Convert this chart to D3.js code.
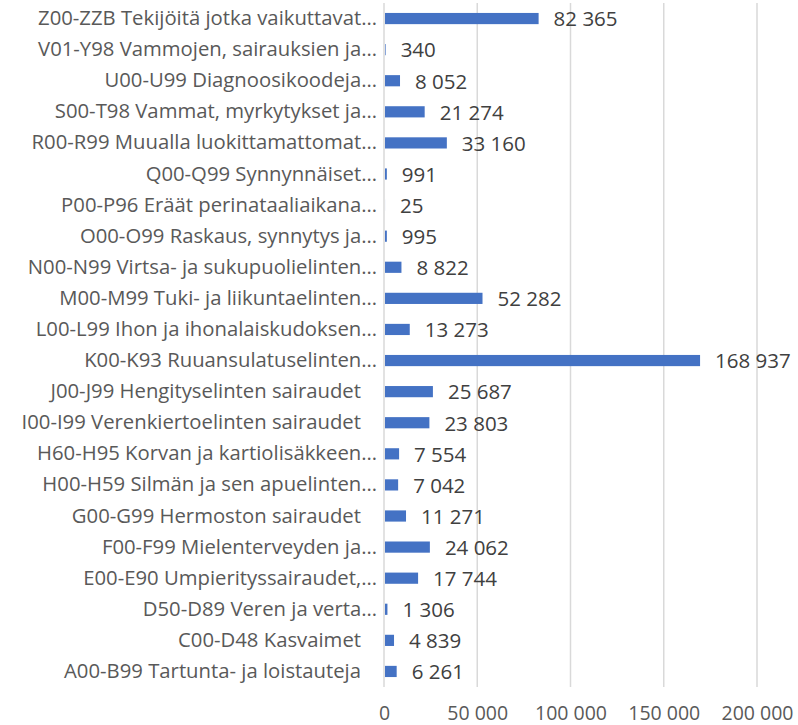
<!DOCTYPE html>
<html>
<head>
<meta charset="utf-8">
<script src="https://cdn.jsdelivr.net/npm/d3@7"></script>
<style>
  body { margin: 0; background: #fff; }
  svg text { font-family: "Open Sans", sans-serif; }
</style>
</head>
<body>
<svg id="chart"></svg>
<script>
const categories = [
    "Z00-ZZB Tekijöitä jotka vaikuttavat…",
    "V01-Y98 Vammojen, sairauksien ja…",
    "U00-U99 Diagnoosikoodeja…",
    "S00-T98 Vammat, myrkytykset ja…",
    "R00-R99 Muualla luokittamattomat…",
    "Q00-Q99 Synnynnäiset…",
    "P00-P96 Eräät perinataaliaikana…",
    "O00-O99 Raskaus, synnytys ja…",
    "N00-N99 Virtsa- ja sukupuolielinten…",
    "M00-M99 Tuki- ja liikuntaelinten…",
    "L00-L99 Ihon ja ihonalaiskudoksen…",
    "K00-K93 Ruuansulatuselinten…",
    "J00-J99 Hengityselinten sairaudet",
    "I00-I99 Verenkiertoelinten sairaudet",
    "H60-H95 Korvan ja kartiolisäkkeen…",
    "H00-H59 Silmän ja sen apuelinten…",
    "G00-G99 Hermoston sairaudet",
    "F00-F99 Mielenterveyden ja…",
    "E00-E90 Umpierityssairaudet,…",
    "D50-D89 Veren ja verta…",
    "C00-D48 Kasvaimet",
    "A00-B99 Tartunta- ja loistauteja"
];
const values = [82365, 340, 8052, 21274, 33160, 991, 25, 995, 8822, 52282, 13273,
    168937, 25687, 23803, 7554, 7042, 11271, 24062, 17744, 1306, 4839, 6261];
const ticks = [0, 50000, 100000, 150000, 200000];

const width = 798, height = 725;
const margin = { top: 3, right: 41, bottom: 38, left: 384 };

const svg = d3.select("#chart").attr("width", width).attr("height", height);
const g = svg.append("g").attr("transform", `translate(${margin.left}, ${margin.top})`);

const w = width - margin.left - margin.right;
const h = height - margin.top - margin.bottom;

const x = d3.scaleLinear().domain([0, 200000]).range([0, w]);
const y = d3.scaleBand().domain(categories).range([0, h]).paddingInner(0.64).paddingOuter(0.32);

const fmt = v => d3.format(",")(v).replace(/,/g, " ");

// gridlines
g.selectAll("line.grid")
    .data(ticks)
    .enter()
    .append("line")
    .attr("class", "grid")
    .attr("x1", d => x(d))
    .attr("x2", d => x(d))
    .attr("y1", 0)
    .attr("y2", h)
    .attr("stroke", "#d9d9d9")
    .attr("stroke-width", 1.5);

// bars
g.selectAll("rect.bar")
    .data(values)
    .enter()
    .append("rect")
    .attr("class", "bar")
    .attr("x", 1)
    .attr("y", (d, i) => y(categories[i]))
    .attr("width", d => x(d))
    .attr("height", y.bandwidth())
    .attr("fill", "#4472c4");

// value labels
g.selectAll("text.val")
    .data(values)
    .enter()
    .append("text")
    .attr("class", "val")
    .attr("x", d => x(d) + 16)
    .attr("y", (d, i) => y(categories[i]) + y.bandwidth() / 2)
    .attr("dy", "0.38em")
    .attr("font-size", 20.5)
    .attr("fill", "#404040")
    .text(d => fmt(d));

// category labels
const yAxis = g.append("g")
    .call(d3.axisLeft(y).tickSize(0).tickPadding(7));
yAxis.select(".domain").remove();
yAxis.selectAll("text")
    .attr("font-size", 20.3)
    .attr("font-family", "Open Sans, sans-serif")
    .attr("fill", "#595959")
    .attr("dx", d => d.endsWith("…") ? 0 : -16);

// x axis labels
const xAxis = g.append("g")
    .attr("transform", `translate(0, ${h})`)
    .call(d3.axisBottom(x).tickValues(ticks).tickFormat(fmt).tickSize(0).tickPadding(19));
xAxis.select(".domain").remove();
xAxis.selectAll("text")
    .attr("font-size", 19.5)
    .attr("font-family", "Open Sans, sans-serif")
    .attr("fill", "#595959");
</script>
</body>
</html>
